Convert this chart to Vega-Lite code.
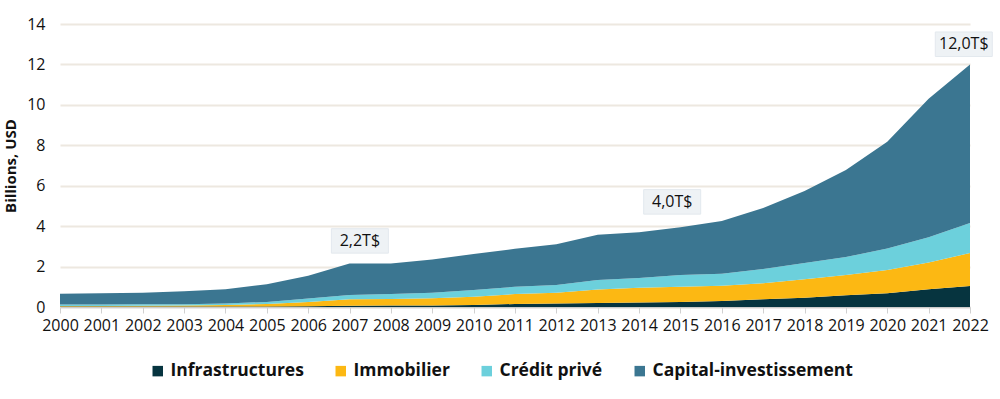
{
  "$schema": "https://vega.github.io/schema/vega-lite/v6.json",
  "width": 910,
  "height": 283,
  "autosize": {"type": "none"},
  "padding": {"left": 60, "top": 24, "right": 30, "bottom": 92},
  "background": "white",
  "config": {
    "view": {"stroke": null},
    "font": "Open Sans",
    "axis": {"labelFont": "Open Sans", "titleFont": "Open Sans"}
  },
  "datasets": {
    "main": [
      {"year": 2000, "type": "Infrastructures", "value": 0.02},
      {"year": 2000, "type": "Immobilier", "value": 0.03},
      {"year": 2000, "type": "Crédit privé", "value": 0.07},
      {"year": 2000, "type": "Capital-investissement", "value": 0.53},
      {"year": 2001, "type": "Infrastructures", "value": 0.02},
      {"year": 2001, "type": "Immobilier", "value": 0.03},
      {"year": 2001, "type": "Crédit privé", "value": 0.07},
      {"year": 2001, "type": "Capital-investissement", "value": 0.56},
      {"year": 2002, "type": "Infrastructures", "value": 0.02},
      {"year": 2002, "type": "Immobilier", "value": 0.04},
      {"year": 2002, "type": "Crédit privé", "value": 0.07},
      {"year": 2002, "type": "Capital-investissement", "value": 0.57},
      {"year": 2003, "type": "Infrastructures", "value": 0.02},
      {"year": 2003, "type": "Immobilier", "value": 0.05},
      {"year": 2003, "type": "Crédit privé", "value": 0.07},
      {"year": 2003, "type": "Capital-investissement", "value": 0.64},
      {"year": 2004, "type": "Infrastructures", "value": 0.03},
      {"year": 2004, "type": "Immobilier", "value": 0.07},
      {"year": 2004, "type": "Crédit privé", "value": 0.07},
      {"year": 2004, "type": "Capital-investissement", "value": 0.71},
      {"year": 2005, "type": "Infrastructures", "value": 0.03},
      {"year": 2005, "type": "Immobilier", "value": 0.12},
      {"year": 2005, "type": "Crédit privé", "value": 0.10},
      {"year": 2005, "type": "Capital-investissement", "value": 0.88},
      {"year": 2006, "type": "Infrastructures", "value": 0.04},
      {"year": 2006, "type": "Immobilier", "value": 0.21},
      {"year": 2006, "type": "Crédit privé", "value": 0.17},
      {"year": 2006, "type": "Capital-investissement", "value": 1.13},
      {"year": 2007, "type": "Infrastructures", "value": 0.06},
      {"year": 2007, "type": "Immobilier", "value": 0.32},
      {"year": 2007, "type": "Crédit privé", "value": 0.21},
      {"year": 2007, "type": "Capital-investissement", "value": 1.56},
      {"year": 2008, "type": "Infrastructures", "value": 0.07},
      {"year": 2008, "type": "Immobilier", "value": 0.33},
      {"year": 2008, "type": "Crédit privé", "value": 0.24},
      {"year": 2008, "type": "Capital-investissement", "value": 1.51},
      {"year": 2009, "type": "Infrastructures", "value": 0.08},
      {"year": 2009, "type": "Immobilier", "value": 0.35},
      {"year": 2009, "type": "Crédit privé", "value": 0.28},
      {"year": 2009, "type": "Capital-investissement", "value": 1.64},
      {"year": 2010, "type": "Infrastructures", "value": 0.10},
      {"year": 2010, "type": "Immobilier", "value": 0.41},
      {"year": 2010, "type": "Crédit privé", "value": 0.33},
      {"year": 2010, "type": "Capital-investissement", "value": 1.78},
      {"year": 2011, "type": "Infrastructures", "value": 0.15},
      {"year": 2011, "type": "Immobilier", "value": 0.49},
      {"year": 2011, "type": "Crédit privé", "value": 0.36},
      {"year": 2011, "type": "Capital-investissement", "value": 1.88},
      {"year": 2012, "type": "Infrastructures", "value": 0.17},
      {"year": 2012, "type": "Immobilier", "value": 0.54},
      {"year": 2012, "type": "Crédit privé", "value": 0.38},
      {"year": 2012, "type": "Capital-investissement", "value": 2.01},
      {"year": 2013, "type": "Infrastructures", "value": 0.20},
      {"year": 2013, "type": "Immobilier", "value": 0.67},
      {"year": 2013, "type": "Crédit privé", "value": 0.47},
      {"year": 2013, "type": "Capital-investissement", "value": 2.23},
      {"year": 2014, "type": "Infrastructures", "value": 0.22},
      {"year": 2014, "type": "Immobilier", "value": 0.73},
      {"year": 2014, "type": "Crédit privé", "value": 0.48},
      {"year": 2014, "type": "Capital-investissement", "value": 2.27},
      {"year": 2015, "type": "Infrastructures", "value": 0.25},
      {"year": 2015, "type": "Immobilier", "value": 0.75},
      {"year": 2015, "type": "Crédit privé", "value": 0.58},
      {"year": 2015, "type": "Capital-investissement", "value": 2.37},
      {"year": 2016, "type": "Infrastructures", "value": 0.30},
      {"year": 2016, "type": "Immobilier", "value": 0.75},
      {"year": 2016, "type": "Crédit privé", "value": 0.60},
      {"year": 2016, "type": "Capital-investissement", "value": 2.61},
      {"year": 2017, "type": "Infrastructures", "value": 0.38},
      {"year": 2017, "type": "Immobilier", "value": 0.80},
      {"year": 2017, "type": "Crédit privé", "value": 0.70},
      {"year": 2017, "type": "Capital-investissement", "value": 3.02},
      {"year": 2018, "type": "Infrastructures", "value": 0.46},
      {"year": 2018, "type": "Immobilier", "value": 0.91},
      {"year": 2018, "type": "Crédit privé", "value": 0.81},
      {"year": 2018, "type": "Capital-investissement", "value": 3.56},
      {"year": 2019, "type": "Infrastructures", "value": 0.58},
      {"year": 2019, "type": "Immobilier", "value": 1.00},
      {"year": 2019, "type": "Crédit privé", "value": 0.89},
      {"year": 2019, "type": "Capital-investissement", "value": 4.31},
      {"year": 2020, "type": "Infrastructures", "value": 0.68},
      {"year": 2020, "type": "Immobilier", "value": 1.15},
      {"year": 2020, "type": "Crédit privé", "value": 1.07},
      {"year": 2020, "type": "Capital-investissement", "value": 5.27},
      {"year": 2021, "type": "Infrastructures", "value": 0.88},
      {"year": 2021, "type": "Immobilier", "value": 1.32},
      {"year": 2021, "type": "Crédit privé", "value": 1.25},
      {"year": 2021, "type": "Capital-investissement", "value": 6.85},
      {"year": 2022, "type": "Infrastructures", "value": 1.04},
      {"year": 2022, "type": "Immobilier", "value": 1.63},
      {"year": 2022, "type": "Crédit privé", "value": 1.48},
      {"year": 2022, "type": "Capital-investissement", "value": 7.85}
    ],
    "notes": [
      {"year": 2007.25, "value": 3.27, "label": "2,2T$"},
      {"year": 2014.8, "value": 5.2, "label": "4,0T$"},
      {"year": 2021.85, "value": 13.0, "label": "12,0T$"}
    ]
  },
  "layer": [
    {
      "data": {"name": "main"},
      "mark": {"type": "area", "interpolate": "linear"},
      "encoding": {
        "x": {
          "field": "year", "type": "quantitative",
          "scale": {"domain": [2000, 2022], "nice": false, "zero": false},
          "axis": {
            "values": [2000,2001,2002,2003,2004,2005,2006,2007,2008,2009,2010,2011,2012,2013,2014,2015,2016,2017,2018,2019,2020,2021,2022],
            "format": "d", "title": null, "grid": false,
            "domainColor": "#cccccc", "domainWidth": 1.5,
            "tickColor": "#d0d0d0", "tickSize": 6, "tickWidth": 1,
            "labelFontSize": 16, "labelColor": "#111111", "labelPadding": 4,
            "labelFlush": false
          }
        },
        "y": {
          "field": "value", "type": "quantitative", "stack": "zero",
          "scale": {"domain": [0, 14], "nice": false},
          "axis": {
            "values": [0,2,4,6,8,10,12,14],
            "title": "Billions, USD", "titleFontSize": 15, "titleFontWeight": "bold",
            "titleColor": "#111111", "titlePadding": 8,
            "domain": false, "ticks": false, "labelPadding": 15,
            "labelFontSize": 16, "labelColor": "#111111",
            "gridColor": "#ede8e0", "gridWidth": 2
          }
        },
        "color": {
          "field": "type", "type": "nominal",
          "sort": ["Infrastructures", "Immobilier", "Crédit privé", "Capital-investissement"],
          "scale": {
            "domain": ["Infrastructures", "Immobilier", "Crédit privé", "Capital-investissement"],
            "range": ["#06343f", "#fcb813", "#6cd0dc", "#3b7691"]
          },
          "legend": {
            "title": null, "orient": "none", "direction": "horizontal",
            "legendX": 89, "legendY": 338,
            "symbolType": "square", "symbolSize": 110, "symbolStrokeWidth": 0,
            "labelFontSize": 17.5, "labelFontWeight": "bold", "labelColor": "#111111",
            "labelOffset": 4, "columnPadding": 28, "labelLimit": 400
          }
        }
      }
    },
    {
      "data": {"name": "notes"},
      "mark": {"type": "point", "shape": "M-1,-0.43H1V0.43H-1Z", "filled": true, "color": "#eef2f5", "stroke": "#e3e9ee", "strokeWidth": 1, "opacity": 1, "size": 3249},
      "encoding": {
        "x": {"field": "year", "type": "quantitative"},
        "y": {"field": "value", "type": "quantitative"}
      }
    },
    {
      "data": {"name": "notes"},
      "mark": {"type": "text", "fontSize": 16, "color": "#111111", "font": "Open Sans", "baseline": "middle"},
      "encoding": {
        "x": {"field": "year", "type": "quantitative"},
        "y": {"field": "value", "type": "quantitative"},
        "text": {"field": "label"}
      }
    }
  ]
}
